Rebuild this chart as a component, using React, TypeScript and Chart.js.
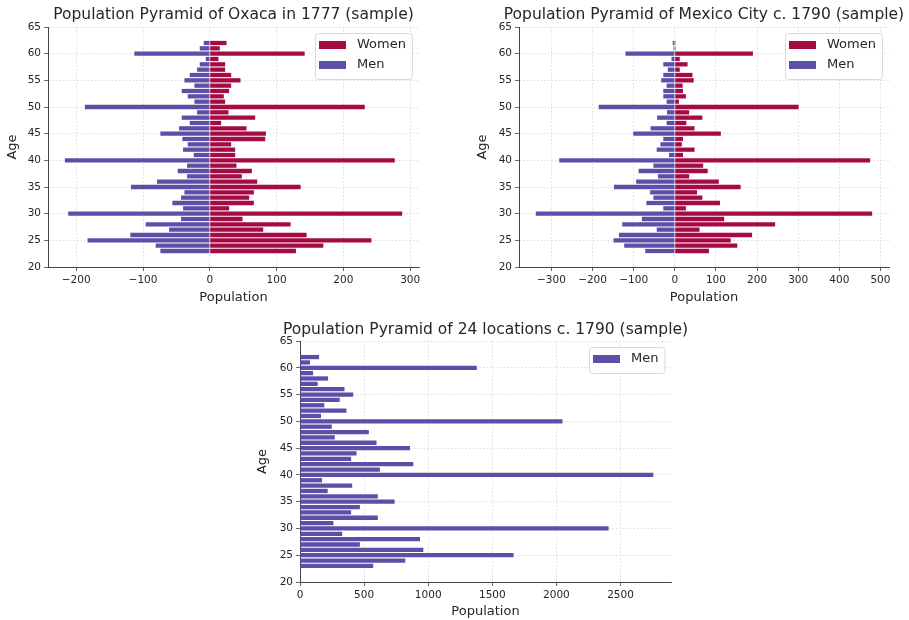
import React, { useEffect, useRef } from 'react';
import { Chart, registerables } from 'chart.js';

Chart.register(...registerables);

// Ages 23 .. 62 (one bar per year)
const ages = [23, 24, 25, 26, 27, 28, 29, 30, 31, 32, 33, 34, 35, 36, 37, 38, 39, 40, 41, 42, 43, 44, 45, 46, 47, 48, 49, 50, 51, 52, 53, 54, 55, 56, 57, 58, 59, 60, 61, 62];

const oaxacaWomen = [129, 170, 242, 145, 80, 121, 49, 288, 29, 66, 59, 66, 136, 71, 48, 63, 40, 277, 38, 38, 32, 83, 84, 55, 17, 68, 28, 232, 23, 21, 29, 32, 46, 32, 23, 23, 13, 142, 15, 25];
const oaxacaMen = [-74, -81, -183, -119, -61, -96, -43, -212, -40, -56, -43, -38, -118, -79, -34, -48, -34, -217, -24, -40, -33, -41, -74, -46, -30, -42, -19, -187, -23, -33, -42, -23, -38, -30, -19, -15, -6, -113, -15, -9];

const mexicoWomen = [83, 152, 136, 188, 60, 244, 120, 480, 27, 110, 67, 54, 160, 107, 35, 80, 69, 475, 20, 48, 17, 20, 112, 48, 28, 67, 35, 301, 10, 27, 20, 19, 46, 43, 12, 31, 12, 190, 2, 2];
const mexicoMen = [-72, -123, -149, -136, -44, -128, -80, -338, -28, -69, -52, -60, -148, -94, -41, -88, -52, -281, -14, -44, -35, -28, -101, -59, -20, -43, -19, -185, -20, -28, -28, -20, -33, -28, -17, -28, -8, -120, -3, -5];

const locationsMen = [571, 821, 1666, 962, 467, 936, 329, 2407, 261, 607, 399, 467, 738, 607, 216, 407, 172, 2756, 623, 884, 399, 441, 858, 597, 271, 537, 248, 2047, 164, 362, 190, 310, 415, 347, 138, 219, 102, 1379, 78, 149];

const ageTicks = [20, 25, 30, 35, 40, 45, 50, 55, 60, 65];
const oaxacaXTicks = [-200, -100, 0, 100, 200, 300];
const mexicoXTicks = [-300, -200, -100, 0, 100, 200, 300, 400, 500];
const locationsXTicks = [0, 500, 1000, 1500, 2000, 2500];

const WOMEN_COLOR = '#A50A45';
const MEN_COLOR = '#5B4FA8';
const FONT = "'DejaVu Sans', sans-serif";
const TEXT = '#262626';

// Title centred over the plot area (not squeezed to its width)
const plotTitle = {
  id: 'plotTitle',
  afterDraw(chart: any, _args: any, opts: any) {
    const { ctx, chartArea } = chart;
    ctx.save();
    ctx.font = `15.5px ${FONT}`;
    ctx.fillStyle = TEXT;
    ctx.textAlign = 'center';
    ctx.textBaseline = 'middle';
    ctx.fillText(opts.text, (chartArea.left + chartArea.right) / 2, opts.y);
    ctx.restore();
  },
};

const insideLegend = {
  id: 'insideLegend',
  afterDraw(chart: any) {
    const { ctx, chartArea } = chart;
    const items = chart.data.datasets.map((d: any) => ({ label: d.label, color: d.backgroundColor }));
    ctx.save();
    ctx.font = `13px ${FONT}`;
    const textW = Math.max(...items.map((i: any) => ctx.measureText(i.label).width));
    const patchW = 27, patchH = 8, padL = 4, gap = 11, padR = 6, rowH = 20, padT = 12, padB = 14;
    const w = padL + patchW + gap + textW + padR;
    const h = padT + (items.length - 1) * rowH + padB;
    const x = Math.round(chartArea.right - 7 - w);
    const y = Math.round(chartArea.top + 6);
    ctx.beginPath();
    if (ctx.roundRect) ctx.roundRect(x + 0.5, y + 0.5, w, h, 3);
    else ctx.rect(x + 0.5, y + 0.5, w, h);
    ctx.fillStyle = 'rgba(255,255,255,0.85)';
    ctx.fill();
    ctx.strokeStyle = '#d9d9d9';
    ctx.lineWidth = 1;
    ctx.stroke();
    items.forEach((it: any, i: number) => {
      const cy = y + padT + i * rowH;
      ctx.fillStyle = it.color;
      ctx.fillRect(x + padL, cy - patchH / 2, patchW, patchH);
      ctx.fillStyle = TEXT;
      ctx.textBaseline = 'middle';
      ctx.textAlign = 'left';
      ctx.fillText(it.label, x + padL + patchW + gap, cy);
    });
    ctx.restore();
  },
};

type Series = { label: string; values: number[]; color: string };
type Spec = {
  title: string;
  series: Series[];
  xTicks: number[];
  zeroMin: boolean;
  padLeft: number;
  padRight: number;
  padTop: number;
  titleY: number;
  yAxisW: number;
  xAxisH: number;
  yTitlePad: number;
  xTitlePad: number;
};

function makeConfig(spec: Spec): any {
  const all = spec.series.flatMap((s) => s.values);
  const dMin = spec.zeroMin ? 0 : Math.min(...all);
  const dMax = Math.max(...all);
  const m = (dMax - dMin) * 0.05;
  const xMin = spec.zeroMin ? 0 : dMin - m;
  const xMax = dMax + m;
  const tickFont = { family: FONT, size: 10.5 };
  const labelFont = { family: FONT, size: 13 };
  return {
    type: 'bar',
    data: {
      datasets: spec.series.map((s) => ({
        label: s.label,
        data: ages.map((a, i) => ({ x: s.values[i], y: a })),
        backgroundColor: s.color,
        borderWidth: 0,
        grouped: false,
        barPercentage: 0.8,
        categoryPercentage: 1,
      })),
    },
    options: {
      indexAxis: 'y',
      animation: false,
      responsive: false,
      maintainAspectRatio: false,
      events: [],
      layout: { padding: { left: spec.padLeft, right: spec.padRight, top: spec.padTop, bottom: 0 } },
      plugins: {
        legend: { display: false },
        tooltip: { enabled: false },
        title: { display: false },
        plotTitle: { text: spec.title, y: spec.titleY },
      },
      scales: {
        x: {
          type: 'linear',
          min: xMin,
          max: xMax,
          afterBuildTicks: (s: any) => {
            s.ticks = spec.xTicks.map((v) => ({ value: v }));
          },
          afterFit: (s: any) => {
            s.height = spec.xAxisH;
          },
          ticks: {
            font: tickFont,
            color: TEXT,
            padding: 3,
            maxRotation: 0,
            autoSkip: false,
            callback: (v: any) => String(v).replace('-', '\u2212'),
          },
          grid: { color: '#d4d4d4', tickColor: '#444', tickLength: 4, lineWidth: 0.8 },
          border: { display: true, color: '#444', width: 1, dash: [1.5, 2] },
          title: { display: true, text: 'Population', color: TEXT, font: labelFont, padding: { top: 0, bottom: spec.xTitlePad } },
        },
        y: {
          type: 'linear',
          min: 20,
          max: 65,
          offset: false,
          afterBuildTicks: (s: any) => {
            s.ticks = ageTicks.map((v) => ({ value: v }));
          },
          afterFit: (s: any) => {
            s.width = spec.yAxisW;
          },
          ticks: { font: tickFont, color: TEXT, padding: 3, autoSkip: false },
          grid: { color: '#d4d4d4', tickColor: '#444', tickLength: 4, lineWidth: 0.8, offset: false },
          border: { display: true, color: '#444', width: 1, dash: [1.5, 2] },
          title: { display: true, text: 'Age', color: TEXT, font: labelFont, padding: { top: spec.yTitlePad, bottom: 0 } },
        },
      },
    },
    plugins: [plotTitle, insideLegend],
  };
}

function ChartBox(props: { spec: Spec; left: number; top: number; width: number; height: number }) {
  const ref = useRef<HTMLCanvasElement | null>(null);
  useEffect(() => {
    if (!ref.current) return;
    const chart = new Chart(ref.current, makeConfig(props.spec));
    return () => chart.destroy();
  }, []);
  return (
    <canvas
      ref={ref}
      width={props.width}
      height={props.height}
      style={{ position: 'absolute', left: props.left, top: props.top, width: props.width, height: props.height }}
    />
  );
}

const oaxacaSpec: Spec = {
  title: 'Population Pyramid of Oxaca in 1777 (sample)',
  series: [
    { label: 'Women', values: oaxacaWomen, color: WOMEN_COLOR },
    { label: 'Men', values: oaxacaMen, color: MEN_COLOR },
  ],
  xTicks: oaxacaXTicks,
  zeroMin: false,
  padLeft: 0,
  padRight: 21,
  padTop: 27,
  titleY: 15,
  yAxisW: 48,
  xAxisH: 43,
  yTitlePad: 5,
  xTitlePad: 5,
};

const mexicoSpec: Spec = {
  title: 'Population Pyramid of Mexico City c. 1790 (sample)',
  series: [
    { label: 'Women', values: mexicoWomen, color: WOMEN_COLOR },
    { label: 'Men', values: mexicoMen, color: MEN_COLOR },
  ],
  xTicks: mexicoXTicks,
  zeroMin: false,
  padLeft: 20,
  padRight: 20,
  padTop: 27,
  titleY: 15,
  yAxisW: 49,
  xAxisH: 43,
  yTitlePad: 5,
  xTitlePad: 5,
};

const locationsSpec: Spec = {
  title: 'Population Pyramid of 24 locations c. 1790 (sample)',
  series: [{ label: 'Men', values: locationsMen, color: MEN_COLOR }],
  xTicks: locationsXTicks,
  zeroMin: true,
  padLeft: 0,
  padRight: 50,
  padTop: 26,
  titleY: 15,
  yAxisW: 50,
  xAxisH: 38,
  yTitlePad: 5,
  xTitlePad: 1,
};

export default function App() {
  return (
    <div style={{ position: 'absolute', left: 0, top: 0, width: 909, height: 620, background: '#fff', overflow: 'hidden' }}>
      <ChartBox spec={oaxacaSpec} left={0} top={0} width={440} height={310} />
      <ChartBox spec={mexicoSpec} left={450} top={0} width={459} height={310} />
      <ChartBox spec={locationsSpec} left={250} top={315} width={471} height={305} />
    </div>
  );
}
